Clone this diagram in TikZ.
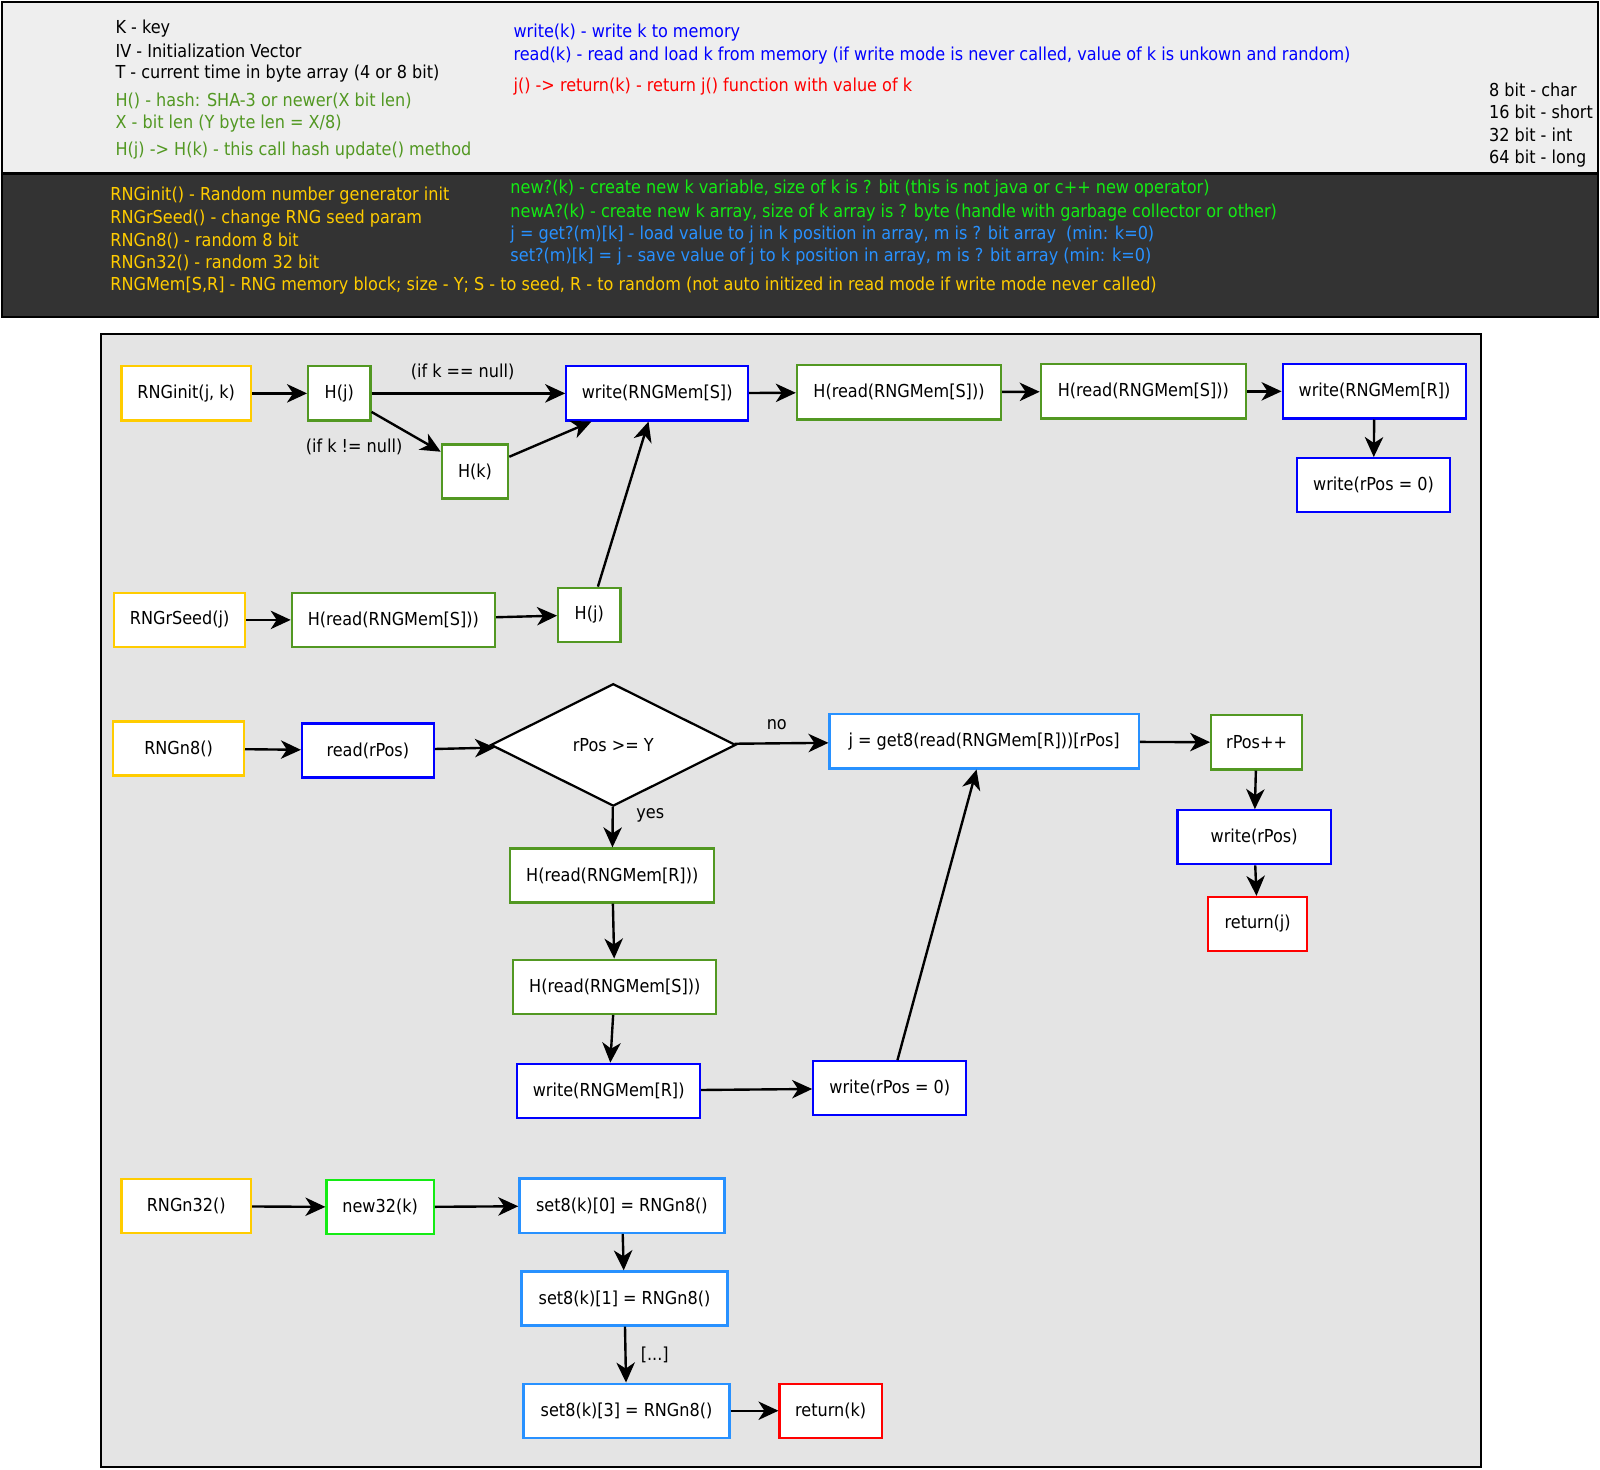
\documentclass[tikz,border=0pt]{standalone}
\usepackage{fontspec}
\setmainfont{DejaVu Sans Condensed}
\usetikzlibrary{arrows.meta, shapes.geometric}
\definecolor{fcYellow}{RGB}{255,204,0}
\definecolor{fcGreen}{RGB}{82,152,34}
\definecolor{fcBlue}{RGB}{0,0,255}
\definecolor{fcSky}{RGB}{40,145,255}
\definecolor{fcLime}{RGB}{20,235,20}
\definecolor{fcRed}{RGB}{255,0,0}
\definecolor{fcLight}{RGB}{238,238,238}
\definecolor{fcDark}{RGB}{51,51,51}
\definecolor{fcPanel}{RGB}{228,228,228}
\newcommand{\pxu}{0.0255cm}

\begin{document}
\begin{tikzpicture}[x=0.0255cm,y=-0.0255cm,
  font=\fontsize{12.7}{14}\selectfont,
  blk/.style={draw,fill=white,line width=1.6pt,inner sep=0pt,anchor=center,
              minimum height=53*\pxu},
  fnbox/.style={blk,draw=fcYellow},
  hbox/.style={blk,draw=fcGreen},
  membox/.style={blk,draw=fcBlue},
  arrbox/.style={blk,draw=fcSky},
  newbox/.style={blk,draw=fcLime},
  retbox/.style={blk,draw=fcRed},
  arr/.style={-{Stealth[length=5mm,width=4.6mm,inset=1.5mm]},line width=1.7pt},
  lbl/.style={inner sep=0pt},
  legend/.style={anchor=west,inner sep=0pt}]
\useasboundingbox (0,0) rectangle (1568,1440);

% ===== legend panels =====
\draw[fill=fcLight,line width=1.5pt] (2,2) rectangle (1566,170);
\draw[fill=fcDark,line width=1.5pt] (2,170) rectangle (1566,311);
\draw[fill=fcPanel,line width=1.5pt] (99,327) rectangle (1451,1438);

% light panel, left column
\node[legend] (lgK) at (113,28) {K - key};
\node[legend] (lgIV) at (113,50) {IV - Initialization Vector};
\node[legend] (lgT) at (113,72) {T - current time in byte array (4 or 8 bit)};
\node[legend,text=fcGreen] (lgH) at (113,99) {H() - hash: SHA-3 or newer(X bit len)};
\node[legend,text=fcGreen] (lgX) at (113,121) {X - bit len (Y byte len = X/8)};
\node[legend,text=fcGreen] (lgHj) at (113,148) {H(j) -> H(k) - this call hash update() method};
% light panel, middle column
\node[legend,text=fcBlue] (lgW) at (503,32) {write(k) - write k to memory};
\node[legend,text=fcBlue] (lgR) at (503,54) {read(k) - read and load k from memory (if write mode is never called, value of k is unkown and random)};
\node[legend,text=fcRed] (lgJ) at (503,85) {j() -> return(k) - return j() function with value of k};
% light panel, sizes
\node[legend] (lgB8) at (1459,88) {8 bit - char};
\node[legend] (lgB16) at (1459,110) {16 bit - short};
\node[legend] (lgB32) at (1459,132) {32 bit - int};
\node[legend] (lgB64) at (1459,155) {64 bit - long};

% dark panel
\node[legend,text=fcYellow] (lgInit) at (108,192) {RNGinit() - Random number generator init};
\node[legend,text=fcYellow] (lgSeed) at (108,214) {RNGrSeed() - change RNG seed param};
\node[legend,text=fcYellow] (lgN8) at (108,236) {RNGn8() - random 8 bit};
\node[legend,text=fcYellow] (lgN32) at (108,258) {RNGn32() - random 32 bit};
\node[legend,text=fcYellow] (lgMem) at (108,280) {RNGMem[S,R] - RNG memory block; size - Y; S - to seed, R - to random (not auto initized in read mode if write mode never called)};
\node[legend,text=fcLime] (lgNew) at (500,185) {new?(k) - create new k variable, size of k is ? bit (this is not java or c++ new operator)};
\node[legend,text=fcLime] (lgNewA) at (500,208) {newA?(k) - create new k array, size of k array is ? byte (handle with garbage collector or other)};
\node[legend,text=fcSky] (lgGet) at (500,230) {j = get?(m)[k] - load value to j in k position in array, m is ? bit array\ \ (min: k=0)};
\node[legend,text=fcSky] (lgSet) at (500,251) {set?(m)[k] = j - save value of j to k position in array, m is ? bit array (min: k=0)};

% ===== RNGinit =====
\node[fnbox,minimum width=127*\pxu] (init) at (182.5,385.5) {RNGinit(j, k)};
\node[hbox,minimum width=61*\pxu] (hj) at (332.5,385.5) {H(j)};
\node[hbox,minimum width=65*\pxu] (hk) at (465.5,462) {H(k)};
\node[membox,minimum width=178*\pxu] (wseed) at (644,385.5) {write(RNGMem[S])};
\node[hbox,minimum width=200*\pxu] (hseedA) at (881,384.5) {H(read(RNGMem[S]))};
\node[hbox,minimum width=201*\pxu] (hseedB) at (1120.5,383.5) {H(read(RNGMem[S]))};
\node[membox,minimum width=180*\pxu] (wrand) at (1347,383.5) {write(RNGMem[R])};
\node[membox,minimum width=150*\pxu] (wpos) at (1346,475.5) {write(rPos = 0)};

\draw[arr] (init) -- (hj);
\draw[arr] (hj) -- (wseed) node[lbl,pos=0.47,above=9pt] (lnull) {(if k == null)};
\draw[arr] (hj) -- (hk);
\node[lbl] (lnotnull) at (347,438) {(if k != null)};
\draw[arr] (hk) -- (wseed);
\draw[arr] (wseed) -- (hseedA);
\draw[arr] (hseedA) -- (hseedB);
\draw[arr] (hseedB) -- (wrand);
\draw[arr] (wrand) -- (wpos);

% ===== RNGrSeed =====
\node[fnbox,minimum width=128*\pxu] (seed) at (176,607.5) {RNGrSeed(j)};
\node[hbox,minimum width=199*\pxu] (hseedC) at (385.5,607.5) {H(read(RNGMem[S]))};
\node[hbox,minimum width=61*\pxu] (hjB) at (577.5,602.5) {H(j)};

\draw[arr] (seed) -- (hseedC);
\draw[arr] (hseedC) -- (hjB);
\draw[arr] (hjB) -- (wseed);

% ===== RNGn8 =====
\node[fnbox,minimum width=128*\pxu] (n8) at (175,733.5) {RNGn8()};
\node[membox,minimum width=129*\pxu] (rpos) at (360.5,735.5) {read(rPos)};
\node[blk,draw=black,diamond,minimum width=240*\pxu,minimum height=120*\pxu] (chk) at (601,730) {rPos >= Y};
\node[arrbox,minimum width=303*\pxu] (get) at (964.5,726.5) {j = get8(read(RNGMem[R]))[rPos]};
\node[hbox,minimum width=89*\pxu] (inc) at (1231.5,727.5) {rPos++};
\node[membox,minimum width=150*\pxu] (wposB) at (1229,820.5) {write(rPos)};
\node[retbox,minimum width=97*\pxu] (retj) at (1232.5,905.5) {return(j)};
\node[hbox,minimum width=200*\pxu] (hrand) at (600,858) {H(read(RNGMem[R]))};
\node[hbox,minimum width=199*\pxu] (hseedD) at (602.5,967) {H(read(RNGMem[S]))};
\node[membox,minimum width=179*\pxu] (wrandB) at (596.5,1069) {write(RNGMem[R])};
\node[membox,minimum width=150*\pxu] (wposC) at (872,1066.5) {write(rPos = 0)};

\draw[arr] (n8) -- (rpos);
\draw[arr] (rpos) -- (chk);
\draw[arr] (chk) -- (get) node[lbl,pos=0.45,above=9pt] (lno) {no};
\draw[arr] (chk) -- (hrand) node[lbl,pos=0.2,right=16pt] (lyes) {yes};
\draw[arr] (hrand) -- (hseedD);
\draw[arr] (hseedD) -- (wrandB);
\draw[arr] (wrandB) -- (wposC);
\draw[arr] (wposC) -- (get);
\draw[arr] (get) -- (inc);
\draw[arr] (inc) -- (wposB);
\draw[arr] (wposB) -- (retj);

% ===== RNGn32 =====
\node[fnbox,minimum width=127*\pxu] (n32) at (182.5,1182) {RNGn32()};
\node[newbox,minimum width=105*\pxu] (new) at (372.5,1183) {new32(k)};
\node[arrbox,minimum width=201*\pxu] (setA) at (609.5,1181.5) {set8(k)[0] = RNGn8()};
\node[arrbox,minimum width=202*\pxu] (setB) at (612,1272.5) {set8(k)[1] = RNGn8()};
\node[arrbox,minimum width=202*\pxu] (setD) at (614,1382.5) {set8(k)[3] = RNGn8()};
\node[retbox,minimum width=100*\pxu] (retk) at (814,1382.5) {return(k)};

\draw[arr] (n32) -- (new);
\draw[arr] (new) -- (setA);
\draw[arr] (setA) -- (setB);
\draw[arr] (setB) -- (setD) node[lbl,midway,right=10pt] (ldots) {[...]};
\draw[arr] (setD) -- (retk);
\end{tikzpicture}
\end{document}
